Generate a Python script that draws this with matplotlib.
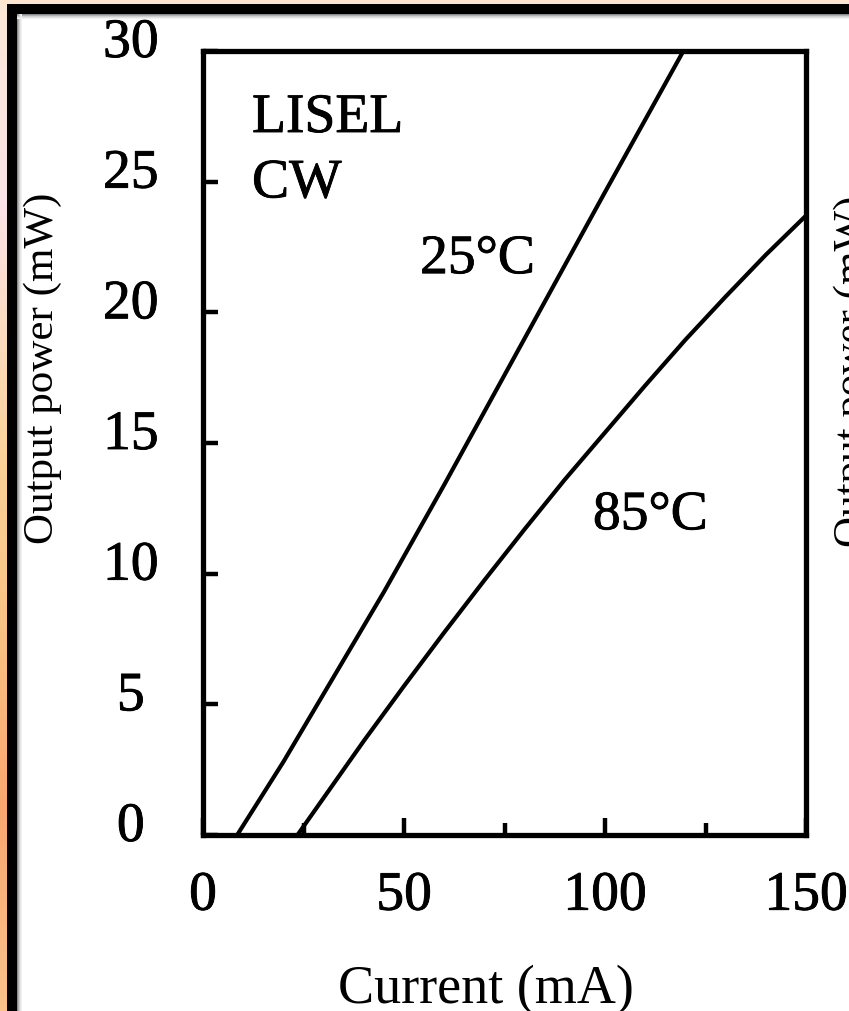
# L-I curves of the LISEL at 25C and 85C
import matplotlib.pyplot as plt
import numpy as np
from matplotlib.patches import Rectangle
from matplotlib.colors import LinearSegmentedColormap
from matplotlib.transforms import ScaledTranslation
import matplotlib.patheffects as pe

plt.rcParams['font.family'] = ['Liberation Serif', 'DejaVu Serif']

# current (mA) and output power (mW)
i_25 = [8.5, 20, 30, 45, 60, 80, 100, 119.5]
p_25 = [0, 2.8, 5.4, 9.3, 13.4, 19.0, 24.6, 30]
i_85 = [23.5, 40, 50, 60, 70, 80, 90, 100, 110, 120, 130, 140, 150]
p_85 = [0, 3.6, 5.7, 7.75, 9.75, 11.7, 13.6, 15.4, 17.2, 18.95, 20.6, 22.2, 23.7]

x_major = [0, 50, 100, 150]
x_minor = [25, 75, 125]
y_major = [0, 5, 10, 15, 20, 25, 30]

W, H = 849, 1012
fig = plt.figure(figsize=(W / 100, H / 100), dpi=100)

# scanned look: slightly heavier glyphs
heavy = [pe.withStroke(linewidth=0.6, foreground='black')]

# frame around the picture (orange strip, black border, soft shadow)
bg = fig.add_axes([0, 0, 1, 1], zorder=-1)
frame_cmap = LinearSegmentedColormap.from_list('frame', [
    (0.0, '#fbe7d6'), (0.2, '#fde3e8'), (0.45, '#fbd29a'),
    (0.62, '#fac283'), (0.8, '#f9a66f'), (1.0, '#fbc28c')])
bg.imshow(np.linspace(0, 1, 256).reshape(-1, 1), cmap=frame_cmap,
          extent=(0, 7.5, H, 0), aspect='auto')
bg.add_patch(Rectangle((0, 0), W, 5, color='#fbe5d0', lw=0))
bg.add_patch(Rectangle((7.5, 5), W, 10, color='black', lw=0))
bg.add_patch(Rectangle((7.5, 5), 10, H, color='black', lw=0))
for k, g in enumerate(['#8a8a8a', '#b0b0b0', '#cfcfcf', '#e4e4e4', '#f2f2f2']):
    bg.add_patch(Rectangle((17.5 + k, 15), 1, H, color=g, lw=0))
    bg.add_patch(Rectangle((17.5, 15 + k), W, 1, color=g, lw=0))
bg.set_xlim(0, W)
bg.set_ylim(H, 0)
bg.axis('off')

# main plot
ax = fig.add_axes([203 / W, 1 - 836 / H, 603 / W, 784 / H])
ax.set_facecolor('white')
ax.plot(i_25, p_25, color='black', lw=3.0)
ax.plot(i_85, p_85, color='black', lw=3.0)
ax.set_xlim(0, 150)
ax.set_ylim(0, 30)

for s in ax.spines.values():
    s.set_linewidth(3.8)

ax.set_xticks(x_major)
ax.set_xticks(x_minor, minor=True)
ax.set_yticks(y_major)
ax.tick_params(axis='x', which='major', direction='in', length=12, width=3.2,
               pad=25, labelsize=40)
ax.tick_params(axis='x', which='minor', direction='in', length=8.5, width=3.2)
ax.tick_params(axis='y', direction='in', length=10.5, width=3.2,
               pad=52, labelsize=40)

# y tick labels sit a bit above their ticks in the original
up = ScaledTranslation(0, 0.14, fig.dpi_scale_trans)
for lab in ax.get_yticklabels():
    lab.set_ha('center')
    lab.set_transform(lab.get_transform() + up)
for lab in ax.get_xticklabels() + ax.get_yticklabels():
    lab.set_path_effects(heavy)

# labels inside the plot
for x, y, s in [(12.2, 26.9, 'LISEL'), (12.2, 24.4, 'CW'),
                (54.0, 21.5, '25°C'), (97.0, 11.7, '85°C')]:
    ax.text(x, y, s, fontsize=40, va='baseline', path_effects=heavy)

# axis titles
fig.text(43 / W, 1 - 368 / H, 'Output power (mW)', rotation=90,
         ha='center', va='center', fontsize=31)
fig.text(486 / W, 1 - 1003 / H, 'Current (mA)', ha='center',
         va='baseline', fontsize=39)
# cut-off title of the next panel on the right edge
fig.text(853 / W, 1 - 371 / H, 'Output power (mW)', rotation=90,
         ha='center', va='center', fontsize=31)

fig.savefig('out.png', dpi=100)
